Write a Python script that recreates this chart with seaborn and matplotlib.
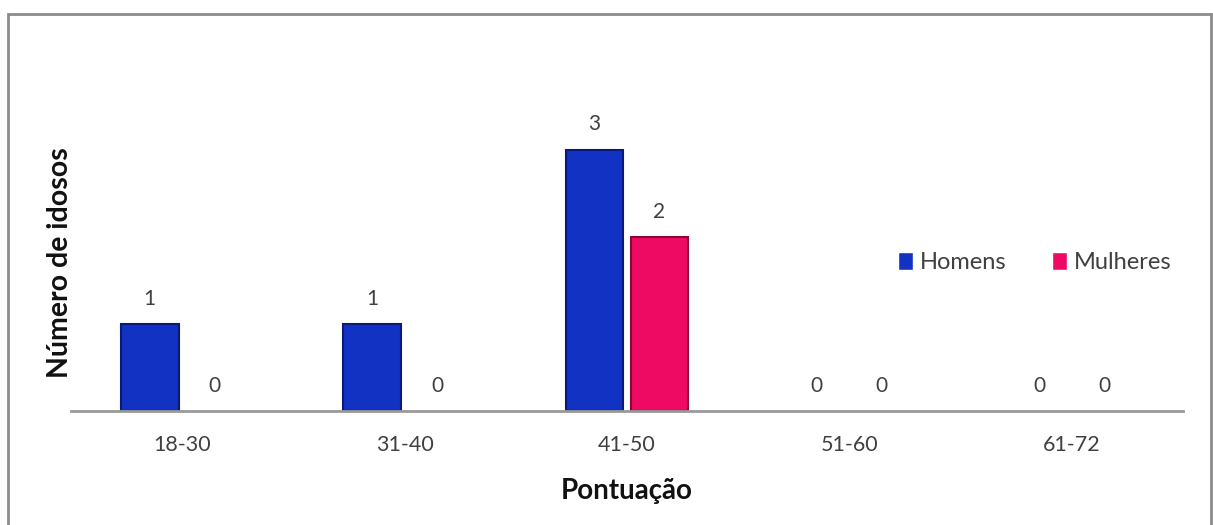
import matplotlib
matplotlib.use("Agg")
import matplotlib.pyplot as plt
import seaborn as sns
import pandas as pd
from matplotlib.patches import Rectangle

categorias = ["18-30", "31-40", "41-50", "51-60", "61-72"]
homens = [1, 1, 3, 0, 0]
mulheres = [0, 0, 2, 0, 0]
series = ["Homens", "Mulheres"]
cores = {"Homens": "#1232c4", "Mulheres": "#ee0a62"}
bordas = {"Homens": "#0a1a78", "Mulheres": "#8a0636"}

df = pd.DataFrame({
    "Pontuação": categorias * 2,
    "Sexo": [series[0]] * len(categorias) + [series[1]] * len(categorias),
    "Número de idosos": homens + mulheres,
})

sns.set_theme(style="white")
plt.rcParams["font.family"] = ["Lato", "DejaVu Sans"]

fig = plt.figure(figsize=(12.13, 5.25), dpi=100)
ax = fig.add_axes([71 / 1213, 114 / 525, 1112 / 1213, 371 / 525])

sns.barplot(data=df, x="Pontuação", y="Número de idosos", hue="Sexo",
            palette=cores, width=0.585, gap=0.11, ax=ax, legend=True,
            saturation=1)

# darker outline on each bar for a bevelled look
for cont, nome in zip(ax.containers, series):
    for barra in cont:
        barra.set_edgecolor(bordas[nome])
        barra.set_linewidth(1.5 if barra.get_height() > 0 else 0)
    ax.bar_label(cont, labels=[str(int(v)) for v in cont.datavalues],
                 padding=11, fontsize=15, color="#404040")

ax.set_xlim(-0.5, 4.5)
ax.set_ylim(0, 4.26)
ax.set_yticks([])
for lado in ["top", "right", "left"]:
    ax.spines[lado].set_visible(False)
ax.spines["bottom"].set_color("#999999")
ax.spines["bottom"].set_linewidth(2)
ax.tick_params(axis="x", length=0, labelsize=15.5, labelcolor="#404040", pad=17)

ax.set_xlabel("Pontuação", fontsize=20, fontweight="bold", color="#111111", labelpad=17)
ax.set_ylabel("Número de idosos", fontsize=20.5, fontweight="bold", color="#111111")
ax.yaxis.set_label_coords(0.002, 0.40)

leg = ax.legend(loc="center left", bbox_to_anchor=(0.725, 0.40), ncol=2,
                frameon=False, fontsize=17, handlelength=0.6, handleheight=0.8,
                handletextpad=0.3, columnspacing=1.95, labelcolor="#404040")

# chart frame
fig.patches.append(Rectangle((8 / 1213, -0.02), 1203 / 1213, (525 - 14) / 525 + 0.02,
                             transform=fig.transFigure, fill=False,
                             edgecolor="#8c8c8c", linewidth=2))

fig.savefig("out.png", dpi=100)
